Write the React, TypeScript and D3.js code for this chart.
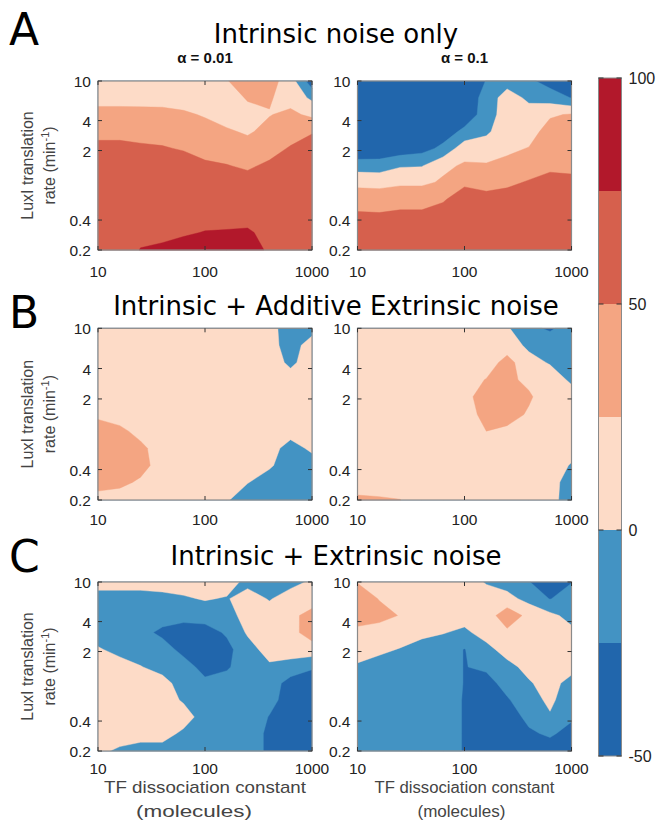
import * as d3 from "d3";

// grid the model was run on: Kd columns (left -> right), LuxI rate rows (top -> bottom)
const kdGrid = [10, 16, 25, 40, 63, 100, 160, 250, 400, 630, 1000];
const rateGrid = [10, 6.8, 4.6, 3.1, 2.1, 1.4, 0.96, 0.65, 0.44, 0.3, 0.2];

const kdTicks = [10, 100, 1000];
const rateTicks = [0.2, 0.4, 2, 4, 10];
const rateTickLabels = ["0.2", "0.4", "2", "4", "10"];

const levels = [-50, -25, 0, 25, 50, 75];
const levelColors = ["#2166ac", "#4393c3", "#fddbc7", "#f4a582", "#d6604d", "#b2182b"];
const cbarTicks = [-50, 0, 50, 100];

const rowLetters = ["A", "B", "C"];
const rowTitles = ["Intrinsic noise only", "Intrinsic + Additive Extrinsic noise", "Intrinsic + Extrinsic noise"];
const alphaLabels = ["α = 0.01", "α = 0.1"];

// % change, one row per rate (10 at top), one column per Kd
const intrinsicLow = [
  12, 12, 12, 12, 10, 8, 24, 35, 35, 12, -40,
  12, 12, 12, 12, 10, 10, 15, 27, 27, 16, -5,
  37, 37, 36, 35, 30, 22, 15, 18, 24, 30, 20,
  37, 37, 39, 40, 40, 38, 28, 22, 32, 40, 48,
  62, 62, 55, 52, 48, 42, 40, 35, 42, 52, 62,
  62, 62, 62, 62, 62, 54, 51, 47, 54, 62, 62,
  62, 62, 62, 62, 62, 62, 62, 58, 62, 62, 62,
  62, 62, 62, 62, 62, 62, 62, 62, 62, 62, 62,
  62, 62, 64, 64, 65, 66, 66, 67, 64, 62, 62,
  62, 62, 68, 68, 72, 76, 77, 78, 68, 62, 62,
  62, 62, 76, 80, 85, 88, 88, 78, 74, 62, 62,
];
const intrinsicHigh = [
  -45, -45, -45, -45, -45, -45, -24, -10, -20, -35, -42,
  -45, -45, -45, -45, -45, -45, -14, 11, -5, -12, -26,
  -45, -45, -45, -45, -45, -40, -14, 14, 10, 22, 27,
  -45, -45, -45, -44, -38, -19, -5, 17, 15, 35, 37,
  -48, -45, -40, -34, -19, 15, 15, 20, 26, 40, 40,
  -11, -12, -2, -1, 20, 28, 27, 32, 38, 45, 44,
  18, 17, 20, 20, 28, 45, 42, 45, 52, 58, 56,
  39, 38, 43, 43, 47, 63, 57, 60, 62, 62, 62,
  54, 53, 54, 54, 62, 62, 62, 62, 62, 62, 62,
  62, 62, 62, 62, 62, 62, 62, 62, 62, 62, 62,
  62, 62, 62, 62, 62, 62, 62, 62, 62, 62, 62,
];
const additiveLow = [
  12, 12, 12, 12, 12, 12, 12, 12, 8, -12, -10,
  12, 12, 12, 12, 12, 12, 12, 12, 10, -12, 12,
  12, 12, 12, 12, 12, 12, 12, 12, 12, -5, 12,
  12, 12, 12, 12, 12, 12, 12, 12, 12, 10, 12,
  12, 12, 12, 12, 12, 12, 12, 12, 12, 12, 12,
  20, 15, 12, 12, 12, 12, 12, 12, 12, 12, 12,
  37, 30, 18, 12, 12, 12, 12, 12, 12, 8, 12,
  37, 37, 30, 14, 12, 12, 12, 12, 8, -8, 4,
  37, 35, 32, 16, 12, 12, 12, 10, 3, -12, -10,
  32, 30, 22, 12, 12, 12, 8, 1, -10, -12, -12,
  18, 15, 12, 10, 10, 10, 2, -12, -12, -12, -12,
];
const additiveHigh = [
  12, 12, 12, 12, 12, 12, 12, 3, -20, -28, -15,
  12, 12, 12, 12, 12, 12, 12, 12, -5, -12, -12,
  12, 12, 12, 12, 12, 12, 12, 34, 8, -2, -12,
  12, 12, 12, 12, 12, 15, 26, 30, 20, 12, -4,
  12, 12, 12, 12, 12, 18, 36, 38, 28, 12, 10,
  12, 12, 12, 12, 12, 15, 32, 35, 22, 12, 12,
  12, 12, 12, 12, 12, 12, 25, 20, 12, 12, 12,
  12, 12, 12, 12, 12, 12, 12, 12, 12, 12, 10,
  12, 12, 12, 12, 12, 12, 12, 12, 12, 12, -2,
  12, 12, 12, 12, 12, 12, 12, 12, 12, 10, -12,
  30, 28, 25.5, 12, 12, 12, 12, 12, 12, 8, -12,
];
const extrinsicLow = [
  12, 12, 12, 12, 12, 12, 12, -8, -12, -8, 4,
  -12, -12, -12, -8, -3, 2, -2, 12, -2, 12, 15,
  -12, -12, -12, -15, -18, -15, -12, 12, 12, 20, 32,
  -10, -12, -18, -30, -35, -35, -22, 3, 12, 18, 35,
  2, -6, -12, -15, -32, -40, -32, -10, 10, 12, 15,
  12, 8, 1, -8, -15, -33, -28, -12, -4, -10, -22,
  12, 12, 10, 8, -10, -20, -15, -12, -12, -35, -40,
  12, 12, 12, 12, -3, -12, -12, -12, -18, -35, -40,
  12, 12, 12, 12, 12, -12, -12, -12, -26, -35, -40,
  12, 12, 10, 10, -5, -12, -12, -12, -30, -30, -40,
  5, -4, -10, -10, -12, -12, -12, -12, -30, -35, -40,
];
const extrinsicHigh = [
  24, 12, 12, 12, 12, 12, -2, -10, -24, -40, -26,
  37, 24, 14, 12, 12, 12, 12, 8, -8, -26, -12,
  37, 32, 24, 12, 10, 8, 12, 40, 18, 6, -8,
  18, 15, 10, 6, 1, -4, 8, 20, 12, 12, 6,
  10, 4, -1, -10, -12, -26, -6, 8, 12, 12, 12,
  -3, -8, -12, -12, -12, -26, -20, -6, 6, 10, 8,
  -12, -12, -12, -12, -12, -26, -35, -15, -2, 8, -8,
  -12, -12, -12, -12, -12, -27, -35, -28, -8, 4, -12,
  -12, -12, -12, -12, -12, -27, -35, -35, -20, -2, -22,
  -12, -12, -12, -12, -12, -27, -35, -35, -28, -22, -32,
  -12, -12, -12, -12, -12, -27, -35, -35, -35, -35, -35,
];

const panelGrids = [
  [intrinsicLow, intrinsicHigh],
  [additiveLow, additiveHigh],
  [extrinsicLow, extrinsicHigh],
];

const colX = [[98, 312], [357.5, 571.5]];
const rowY = [[81, 250], [328.3, 500], [582, 751]];
const xLabelDrop = [27, 25, 23];
const titleY = [43, 315, 565];
const letterY = [45, 328, 572];

const tickFont = "'Liberation Sans', Arial, sans-serif";
const titleFont = "'DejaVu Sans', Verdana, sans-serif";

// fractional grid coordinate from d3.contours -> data value (log interpolation)
function gridValue(arr: number[], g: number) {
  const i = Math.max(0, Math.min(arr.length - 1, g - 0.5));
  const k = Math.min(arr.length - 2, Math.floor(i));
  const t = i - k;
  return Math.pow(10, Math.log10(arr[k]) * (1 - t) + Math.log10(arr[k + 1]) * t);
}

function Panel({ grid, row, col }: { grid: number[]; row: number; col: number }) {
  const [x0, x1] = colX[col];
  const [y0, y1] = rowY[row];
  const xs = d3.scaleLog().domain([10, 1000]).range([x0, x1]);
  const ys = d3.scaleLog().domain([0.2, 10]).range([y1, y0]);

  const proj = d3.geoTransform({
    point(x: number, y: number) {
      (this as any).stream.point(xs(gridValue(kdGrid, x)), ys(gridValue(rateGrid, y)));
    },
  });
  const path = d3.geoPath(proj);
  const bands = d3.contours().size([kdGrid.length, rateGrid.length]).thresholds(levels)(grid);

  const tickLen = 4;
  return (
    <g>
      <rect x={x0} y={y0} width={x1 - x0} height={y1 - y0} fill={levelColors[0]} />
      {bands.map((b, i) => (
        <path key={i} d={path(b as any) || ""} fill={levelColors[i]} stroke={levelColors[i]} strokeWidth={0.4} />
      ))}
      <rect x={x0} y={y0} width={x1 - x0} height={y1 - y0} fill="none" stroke="#8a8a8a" strokeWidth={1.2} />
      {kdTicks.map((v) => (
        <g key={"xt" + v}>
          <line x1={xs(v)} x2={xs(v)} y1={y1} y2={y1 - tickLen} stroke="#333" />
          <line x1={xs(v)} x2={xs(v)} y1={y0} y2={y0 + tickLen} stroke="#333" />
          <text x={xs(v)} y={y1 + xLabelDrop[row]} textAnchor="middle" fontSize={15.5} fontFamily={tickFont} fill="#222">
            {v}
          </text>
        </g>
      ))}
      {rateTicks.map((v, i) => (
        <g key={"yt" + v}>
          <line x1={x0} x2={x0 + tickLen} y1={ys(v)} y2={ys(v)} stroke="#333" />
          <line x1={x1} x2={x1 - tickLen} y1={ys(v)} y2={ys(v)} stroke="#333" />
          <text x={x0 - 7} y={ys(v) + 6} textAnchor="end" fontSize={15.5} fontFamily={tickFont} fill="#222">
            {rateTickLabels[i]}
          </text>
        </g>
      ))}
    </g>
  );
}

function Colorbar() {
  const x0 = 598.5;
  const w = 23;
  const cs = d3.scaleLinear().domain([-50, 100]).range([756, 78]);
  const edges = [...levels, 100];
  return (
    <g>
      {levels.map((v, i) => (
        <rect key={v} x={x0} y={cs(edges[i + 1])} width={w} height={cs(v) - cs(edges[i + 1])} fill={levelColors[i]} />
      ))}
      <rect x={x0} y={cs(100)} width={w} height={cs(-50) - cs(100)} fill="none" stroke="#8a8a8a" strokeWidth={1} />
      {cbarTicks.map((v) => (
        <g key={v}>
          <line x1={x0} x2={x0 + 5} y1={cs(v)} y2={cs(v)} stroke="#333" />
          <line x1={x0 + w} x2={x0 + w - 5} y1={cs(v)} y2={cs(v)} stroke="#333" />
          <text x={x0 + w + 7} y={cs(v) + 6} fontSize={16} fontFamily={tickFont} fill="#222">
            {v}
          </text>
        </g>
      ))}
    </g>
  );
}

export default function App() {
  return (
    <svg width={657} height={829} style={{ display: "block", position: "absolute", left: 0, top: 0, background: "#fff" }}>
      <rect width={657} height={829} fill="#fff" />
      {rowTitles.map((t, r) => (
        <g key={t}>
          <text x={9} y={letterY[r]} fontSize={44} fontFamily={titleFont} fill="#000">
            {rowLetters[r]}
          </text>
          <text x={336} y={titleY[r]} textAnchor="middle" fontSize={26} fontFamily={titleFont} fill="#000">
            {t}
          </text>
          {/* y axis label on the left panel */}
          <g transform={`translate(0,${(rowY[r][0] + rowY[r][1]) / 2})`}>
            <text transform="translate(33,0) rotate(-90)" textAnchor="middle" fontSize={16} fontFamily={tickFont} fill="#444">
              LuxI translation
            </text>
            <text transform="translate(55,0) rotate(-90)" textAnchor="middle" fontSize={16} fontFamily={tickFont} fill="#444">
              rate (min<tspan dy={-6} fontSize={11}>-1</tspan>
              <tspan dy={6}>)</tspan>
            </text>
          </g>
          {panelGrids[r].map((g, c) => (
            <Panel key={c} grid={g} row={r} col={c} />
          ))}
        </g>
      ))}
      {alphaLabels.map((a, c) => (
        <text key={a} x={(colX[c][0] + colX[c][1]) / 2} y={63} textAnchor="middle" fontSize={15} fontWeight="bold" fontFamily={tickFont} fill="#111">
          {a}
        </text>
      ))}
      {colX.map(([a, b], c) => (
        <g key={c} fontFamily={tickFont} fontSize={c === 0 ? 17 : 16} fill="#444">
          <text x={(a + b) / 2} y={793} textAnchor="middle" textLength={c === 0 ? 202 : 180} lengthAdjust="spacingAndGlyphs">
            TF dissociation constant
          </text>
          <text x={(a + b) / 2 - (c === 0 ? 11 : 3)} y={817} textAnchor="middle" textLength={c === 0 ? 116 : 88} lengthAdjust="spacingAndGlyphs">
            (molecules)
          </text>
        </g>
      ))}
      <Colorbar />
    </svg>
  );
}
